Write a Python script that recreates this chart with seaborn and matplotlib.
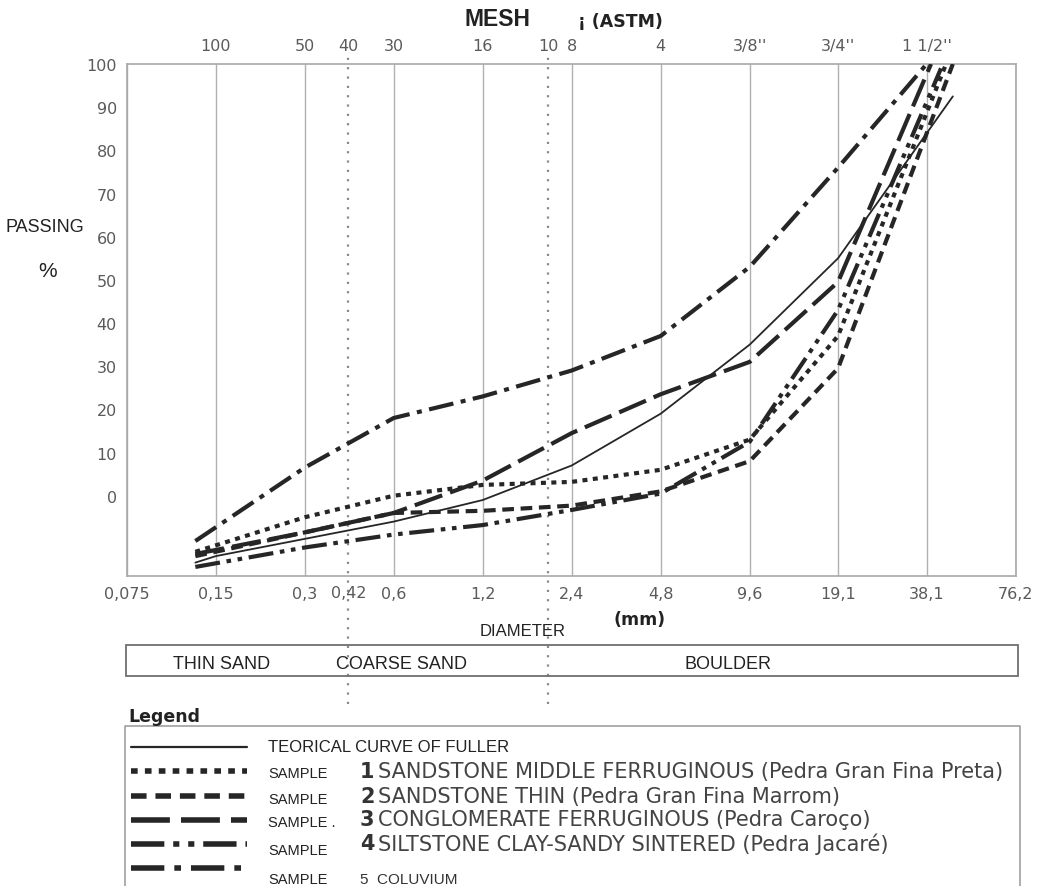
import matplotlib
matplotlib.use("Agg")
import matplotlib.pyplot as plt
from matplotlib.lines import Line2D
from matplotlib.patches import Rectangle
from matplotlib.ticker import NullLocator
import seaborn as sns
import numpy as np

# ---------------- data ----------------
x_ticks = [0.075, 0.15, 0.3, 0.6, 1.2, 2.4, 4.8, 9.6, 19.1, 38.1, 76.2]
x_tick_labels = ["0,075", "0,15", "0,3", "0,6", "1,2", "2,4", "4,8", "9,6", "19,1", "38,1", "76,2"]
x_extra_tick = 0.42
x_extra_label = "0,42"
mesh_diam = [0.15, 0.3, 0.42, 0.6, 1.2, 2.0, 2.4, 4.8, 9.6, 19.1, 38.1]
mesh_labels = ["100", "50", "40", "30", "16", "10", "8", "4", "3/8''", "3/4''", "1 1/2''"]
y_ticks = [0, 10, 20, 30, 40, 50, 60, 70, 80, 90, 100]
sieve_dividers = [0.42, 2.0]

fuller_x = [0.128, 0.15, 0.3, 0.6, 1.2, 2.4, 4.8, 9.6, 19.1, 46.7]
fuller_y = [-15.5, -14, -10, -6, -1, 7, 19, 35, 55, 92.5]

s1_x = [0.128, 0.3, 0.6, 1.2, 2.4, 4.8, 9.6, 19.1, 44.3]
s1_y = [-13, -5, 0, 2.5, 3.2, 6, 13, 37, 100]

s2_x = [0.128, 0.3, 0.6, 1.2, 2.4, 4.8, 9.6, 19.1, 46.7]
s2_y = [-14, -8.5, -4, -3.5, -2.3, 1, 8, 29.5, 100]

s3_x = [0.128, 0.3, 0.6, 1.2, 2.4, 4.8, 9.6, 19.1, 39.4]
s3_y = [-13.5, -8.5, -4, 3.5, 14.5, 23.5, 31, 49.5, 100]

s4_x = [0.128, 0.3, 0.6, 1.2, 2.4, 4.8, 9.6, 19.1, 42.6]
s4_y = [-16.5, -12, -9, -6.8, -3.3, 0.5, 12.5, 43, 99]

s5_x = [0.128, 0.3, 0.6, 1.2, 2.4, 4.8, 9.6, 19.1, 38.1]
s5_y = [-10.5, 6.5, 18, 23, 29, 37, 53, 76, 100]

band_labels = ["THIN SAND", "COARSE SAND", "BOULDER"]
legend_main = "TEORICAL CURVE OF FULLER"
legend_nums = ["1", "2", "3", "4", "5"]
legend_desc = [
    "SANDSTONE MIDDLE FERRUGINOUS (Pedra Gran Fina Preta)",
    "SANDSTONE THIN (Pedra Gran Fina Marrom)",
    "CONGLOMERATE FERRUGINOUS (Pedra Caroço)",
    "SILTSTONE CLAY-SANDY SINTERED (Pedra Jacaré)",
    "COLUVIUM",
]

# ---------------- styles ----------------
INK = "#262626"
styles = {
    "fuller": dict(lw=1.3, ls="-"),
    "s1": dict(lw=3.0, ls=(0, (1.2, 1.3))),
    "s2": dict(lw=3.0, ls=(0, (2.8, 1.6))),
    "s3": dict(lw=3.0, ls=(0, (7, 2))),
    "s4": dict(lw=3.0, ls=(0, (6, 1.6, 1.1, 1.6, 1.1, 1.6))),
    "s5": dict(lw=3.0, ls=(0, (6, 1.8, 1.2, 1.8))),
}

sns.set_theme(style="white")
plt.rcParams["font.family"] = ["DejaVu Sans"]

W, H = 1044, 887
fig = plt.figure(figsize=(W / 100, H / 100), dpi=100)

def fx(px):
    return px / W

def fy(py):
    return 1 - py / H

L, R, T_, B = 126.7, 1015.7, 65, 577
ax = fig.add_axes([fx(L), fy(B), fx(R) - fx(L), fy(T_) - fy(B)])

NARROW = ["Liberation Sans", "DejaVu Sans"]

series = [
    ("fuller", fuller_x, fuller_y),
    ("s1", s1_x, s1_y),
    ("s2", s2_x, s2_y),
    ("s3", s3_x, s3_y),
    ("s4", s4_x, s4_y),
    ("s5", s5_x, s5_y),
]
for key, xs, ys in series:
    st = styles[key]
    sns.lineplot(x=xs, y=ys, ax=ax, color=INK, linewidth=st["lw"],
                 linestyle=st["ls"], sort=False, estimator=None,
                 legend=False, zorder=5)

ax.set_xscale("log", base=2)
ax.set_xlim(0.075, 76.2)
ax.set_ylim(-18.6, 100)
ax.set_xticks(x_ticks)
ax.set_xticklabels(x_tick_labels)
ax.xaxis.set_minor_locator(NullLocator())
ax.set_yticks(y_ticks)
ax.set_yticklabels([str(v) for v in y_ticks])
ax.tick_params(axis="both", length=0, labelsize=11.5, labelcolor="#5a5a5a")
ax.tick_params(axis="x", pad=7)
ax.tick_params(axis="y", pad=7)
ax.grid(axis="x", color="#b0b0b0", lw=1.0)
ax.grid(axis="y", visible=False)
for sp in ax.spines.values():
    sp.set_color("#a8a8a8")
    sp.set_linewidth(1.2)
ax.set_xlabel("")
ax.set_ylabel("")

# dotted sieve dividers extending through the band
for d in sieve_dividers:
    ax.axvline(d, ymin=-0.25, ymax=1.014, clip_on=False, color="#8a8a8a",
               lw=1.6, ls=(0, (1, 3.2)), zorder=3)

# top mesh axis
sec = ax.secondary_xaxis("top")
sec.set_xticks(mesh_diam)
sec.set_xticklabels(mesh_labels)
sec.xaxis.set_minor_locator(NullLocator())
sec.tick_params(length=0, labelsize=11.5, labelcolor="#5a5a5a", pad=8)
sec.spines["top"].set_visible(False)

# ---------------- texts ----------------
def T(px, py, s, **kw):
    fig.text(fx(px), fy(py), s, **kw)

# extra bottom tick label 0,42 (on the same line as the other ticks)
T(349, 594, x_extra_label, ha="center", va="center", fontsize=11.5, color="#5a5a5a")

T(497, 19, "MESH", ha="center", va="center", fontsize=16.5, fontweight="bold",
  family=NARROW, color="#222222")
T(578, 22, "¡ (ASTM)", ha="left", va="center", fontsize=12.5, fontweight="bold",
  color="#222222")
T(45, 228, "PASSING", ha="center", va="center", fontsize=13, family=NARROW,
  color="#222222")
T(48, 272, "%", ha="center", va="center", fontsize=15, family=NARROW, color="#222222")
T(640, 620, "(mm)", ha="center", va="center", fontsize=12.5, fontweight="bold",
  color="#222222")
T(523, 631, "DIAMETER", ha="center", va="center", fontsize=12, family=NARROW,
  color="#222222")

# band
fig.add_artist(Rectangle((fx(126), fy(677)), fx(1018) - fx(126), fy(646) - fy(677),
                         transform=fig.transFigure, fill=False, ec="#6e6e6e", lw=1.3))
for lab, px in zip(band_labels, [222, 402, 728]):
    T(px, 665, lab, ha="center", va="center", fontsize=13, family=NARROW, color="#222222")

# legend block
T(128, 717, "Legend", ha="left", va="center", fontsize=12.5, fontweight="bold",
  color="#222222")
fig.add_artist(Line2D([fx(125), fx(125), fx(1020), fx(1020)],
                      [fy(887), fy(727), fy(727), fy(887)],
                      transform=fig.transFigure, color="#a0a0a0", lw=1.2))

line_rows = [748, 772, 797, 821, 845, 869]
keys = ["fuller", "s1", "s2", "s3", "s4", "s5"]
for key, py in zip(keys, line_rows):
    st = styles[key]
    lw = 1.6 if key == "fuller" else 4.0
    fig.add_artist(Line2D([fx(131), fx(247)], [fy(py), fy(py)], transform=fig.transFigure,
                          color=INK, lw=lw, ls=st["ls"]))

T(268, 748, legend_main, ha="left", va="center", fontsize=12, family=NARROW, color="#222222")
sample_y = [774, 800, 823, 851, 880]
desc_y = [772, 797, 820, 844, 880]
for i in range(5):
    T(268, sample_y[i], "SAMPLE" + (" ." if i == 2 else ""), ha="left", va="center",
      fontsize=10.5, family=NARROW, color="#222222")
    if i < 4:
        T(360, desc_y[i], legend_nums[i], ha="left", va="center", fontsize=15,
          fontweight="bold", color="#333333")
        T(378, desc_y[i], legend_desc[i], ha="left", va="center", fontsize=15,
          color="#444444")
    else:
        T(360, desc_y[i], legend_nums[i] + "  " + legend_desc[i], ha="left", va="center",
          fontsize=11, family=NARROW, color="#333333")

fig.savefig("out.png", dpi=100)
